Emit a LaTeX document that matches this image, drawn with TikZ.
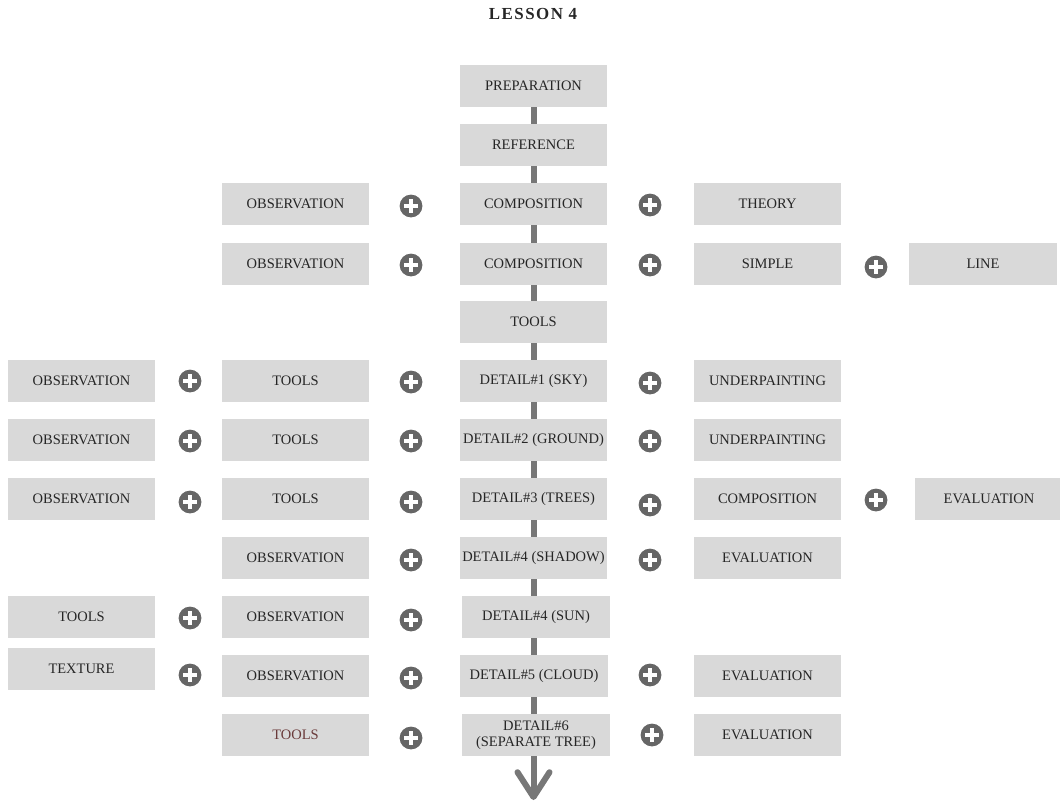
\documentclass[tikz,border=0pt]{standalone}
\usepackage{fontspec}
\setmainfont{Liberation Serif}
\newfontfamily\titlefont[LetterSpace=9]{Liberation Serif}
\usetikzlibrary{arrows.meta}
\definecolor{kasten}{HTML}{D9D9D9}
\definecolor{plusg}{HTML}{666666}
\definecolor{stabg}{HTML}{777777}
\definecolor{schrift}{HTML}{262626}
\definecolor{braun}{HTML}{6A3A3A}
\tikzset{
  stage/.style={fill=kasten,text=schrift,minimum width=3.675cm,minimum height=1.05cm,
    inner sep=1pt,outer sep=0pt,align=center,font=\fontsize{10.3}{11.3}\selectfont},
  plus/.style={circle,fill=plusg,minimum size=0.57cm,inner sep=0pt,
    path picture={
      \fill[white] ([shift={(-0.165cm,-0.06cm)}]path picture bounding box.center)
        rectangle ([shift={(0.165cm,0.06cm)}]path picture bounding box.center);
      \fill[white] ([shift={(-0.06cm,-0.165cm)}]path picture bounding box.center)
        rectangle ([shift={(0.06cm,0.165cm)}]path picture bounding box.center);}},
  stab/.style={stabg,line width=0.15cm},
  stabpfeil/.style={stab,-{Straight Barb[length=0.62cm,width=0.8cm,round]}},
}

\begin{document}
\begin{tikzpicture}[x=0.025cm,y=-0.025cm]
  \useasboundingbox (0,0) rectangle (1060,804);
  \node[text=schrift,font=\fontsize{12}{14}\titlefont\bfseries] (title) at (533,14) {LESSON 4};
  % centre column
  \node[stage] (c1)  at (533.5,86)  {PREPARATION};
  \node[stage] (c2)  at (533.5,145) {REFERENCE};
  \node[stage] (c3)  at (533.5,204) {COMPOSITION};
  \node[stage] (c4)  at (533.5,264) {COMPOSITION};
  \node[stage] (c5)  at (533.5,322) {TOOLS};
  \node[stage] (c6)  at (533.5,381) {DETAIL\#1 (SKY)};
  \node[stage] (c7)  at (533.5,440) {DETAIL\#2 (GROUND)};
  \node[stage] (c8)  at (533.5,499) {DETAIL\#3 (TREES)};
  \node[stage] (c9)  at (533.5,558) {DETAIL\#4 (SHADOW)};
  \node[stage] (c10) at (536,617)   {DETAIL\#4 (SUN)};
  \node[stage] (c11) at (534,676)   {DETAIL\#5 (CLOUD)};
  \node[stage] (c12) at (536,735)   {DETAIL\#6\\(SEPARATE TREE)};
  % left column
  \node[stage] (l3)  at (295.5,204) {OBSERVATION};
  \node[stage] (l4)  at (295.5,264) {OBSERVATION};
  \node[stage] (l6)  at (295.5,381) {TOOLS};
  \node[stage] (l7)  at (295.5,440) {TOOLS};
  \node[stage] (l8)  at (295.5,499) {TOOLS};
  \node[stage] (l9)  at (295.5,558) {OBSERVATION};
  \node[stage] (l10) at (295.5,617) {OBSERVATION};
  \node[stage] (l11) at (295.5,676) {OBSERVATION};
  \node[stage,text=braun] (l12) at (295.5,735) {TOOLS};
  % far left column
  \node[stage] (f6)  at (81.5,381) {OBSERVATION};
  \node[stage] (f7)  at (81.5,440) {OBSERVATION};
  \node[stage] (f8)  at (81.5,499) {OBSERVATION};
  \node[stage] (f10) at (81.5,617) {TOOLS};
  \node[stage] (f11) at (81.5,669) {TEXTURE};
  % right column
  \node[stage] (r3)  at (767.5,204) {THEORY};
  \node[stage] (r4)  at (767.5,264) {SIMPLE};
  \node[stage] (r6)  at (767.5,381) {UNDERPAINTING};
  \node[stage] (r7)  at (767.5,440) {UNDERPAINTING};
  \node[stage] (r8)  at (767.5,499) {COMPOSITION};
  \node[stage] (r9)  at (767.5,558) {EVALUATION};
  \node[stage] (r11) at (767.5,676) {EVALUATION};
  \node[stage] (r12) at (767.5,735) {EVALUATION};
  % far right column
  \node[stage] (x4)  at (983,264) {LINE};
  \node[stage] (x8)  at (989,499) {EVALUATION};
  % plus signs
  \foreach \px/\py [count=\k] in {411/206,650/205,411/265,650/265,876/267,
      190/381,411/382,650/383,190/441,411/441,650/441,
      190/502,411/502,650/505,876/500,411/560,650/560,
      190/618,411/620,190/675,411/678,650/675,411/738,652/735}
    {\node[plus] (p\k) at (\px,\py) {};}
  % spine
  \draw[stab] (c1) -- (c2);
  \draw[stab] (c2) -- (c3);
  \draw[stab] (c3) -- (c4);
  \draw[stab] (c4) -- (c5);
  \draw[stab] (c5) -- (c6);
  \draw[stab] (c6) -- (c7);
  \draw[stab] (c7) -- (c8);
  \draw[stab] (c8) -- (c9);
  \draw[stab] (c9) -- (c10.north -| c9);
  \draw[stab] (c10.south -| c9) -- (c11.north -| c9);
  \draw[stab] (c11.south -| c9) -- (c12.north -| c9);
  \coordinate (ende) at (533.5,800);
  \draw[stabpfeil] (c12.south -| ende) -- (ende);
\end{tikzpicture}
\end{document}
